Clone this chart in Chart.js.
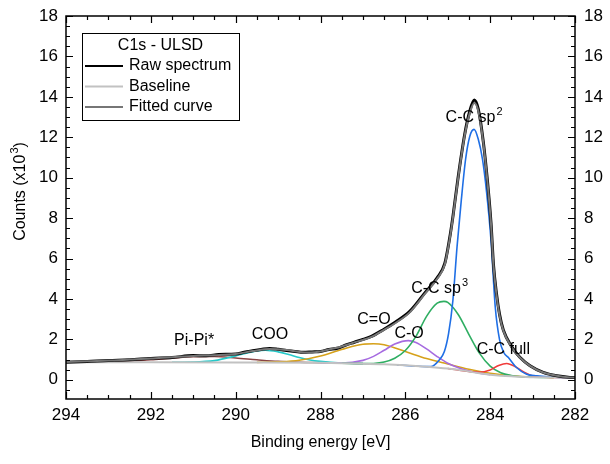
<!DOCTYPE html>
<html>
<head>
<meta charset="utf-8">
<script src="https://cdn.jsdelivr.net/npm/chart.js@4.4.0/dist/chart.umd.min.js"></script>
<style>
  html, body { margin: 0; padding: 0; background: #fff; }
  canvas { display: block; }
</style>
</head>
<body>
<canvas id="xps" width="610" height="464"></canvas>
<script>
// C1s - ULSD, binding energy (eV) vs counts (x10^3)

const rawE = [294, 293.5, 293, 292.5, 292, 291.5, 291, 290.7, 290.4, 290, 289.8, 289.6, 289.4, 289.2, 289, 288.8, 288.6, 288.4, 288.2, 288, 287.8, 287.6, 287.4, 287.2, 287, 286.8, 286.52, 286.24, 285.89, 285.54, 285.25, 285.07, 284.96, 284.88, 284.76, 284.6, 284.48, 284.375, 284.28, 284.16, 284.06, 283.98, 283.92, 283.85, 283.78, 283.69, 283.49, 283.3, 283.06, 282.75, 282.43, 282.12, 282];
const rawCounts = [0.87, 0.91, 0.96, 0.99, 1.06, 1.10, 1.20, 1.19, 1.25, 1.28, 1.36, 1.44, 1.50, 1.55, 1.51, 1.45, 1.40, 1.36, 1.38, 1.40, 1.50, 1.56, 1.72, 1.86, 2.00, 2.15, 2.48, 2.85, 3.40, 4.30, 5.05, 5.76, 6.95, 8.05, 9.95, 12.15, 13.30, 13.85, 13.40, 11.75, 9.75, 7.75, 5.65, 4.25, 3.25, 2.46, 1.63, 1.12, 0.70, 0.37, 0.20, 0.12, 0.11];

const fitE = [294, 293.5, 293, 292.5, 292, 291.5, 291, 290.5, 290, 289.6, 289.2, 288.8, 288.5, 288.25, 288, 287.75, 287.5, 287.2, 287, 286.8, 286.52, 286.24, 285.89, 285.54, 285.25, 285.07, 284.96, 284.88, 284.76, 284.6, 284.48, 284.375, 284.28, 284.16, 284.06, 283.98, 283.92, 283.85, 283.78, 283.69, 283.49, 283.3, 283.06, 282.75, 282.43, 282.12, 282];
const fitCounts = [0.88, 0.92, 0.95, 1.00, 1.05, 1.12, 1.18, 1.22, 1.28, 1.42, 1.52, 1.47, 1.38, 1.35, 1.40, 1.52, 1.65, 1.85, 1.97, 2.12, 2.45, 2.80, 3.35, 4.25, 5.00, 5.70, 6.90, 8.00, 9.90, 12.10, 13.20, 13.70, 13.30, 11.70, 9.70, 7.70, 5.60, 4.20, 3.20, 2.43, 1.60, 1.10, 0.69, 0.36, 0.20, 0.12, 0.11];

const baseE = [294, 292, 290, 288, 287, 286.5, 286, 285.5, 285, 284.75, 284.5, 284.25, 284, 283.75, 283.5, 283.25, 283, 282.5, 282];
const baseCounts = [0.87, 0.87, 0.86, 0.84, 0.80, 0.77, 0.72, 0.65, 0.56, 0.50, 0.41, 0.32, 0.25, 0.20, 0.17, 0.15, 0.13, 0.12, 0.11];

// fitted components (baseline included)
const piE = [294, 293, 292.5, 292, 291.5, 291, 290.5, 290, 289.5, 289, 288.5, 288, 287];
const piCounts = [0.87, 0.89, 0.93, 0.99, 1.07, 1.14, 1.15, 1.08, 0.99, 0.91, 0.87, 0.85, 0.80];

const cooE = [291.5, 291, 290.5, 290, 289.75, 289.5, 289.3, 289, 288.75, 288.5, 288.25, 288, 287.5, 287];
const cooCounts = [0.87, 0.88, 0.95, 1.18, 1.32, 1.43, 1.46, 1.38, 1.25, 1.10, 0.98, 0.91, 0.83, 0.80];

const coE = [289.5, 289, 288.5, 288, 287.5, 287, 286.75, 286.5, 286, 285.5, 285, 284.5, 284, 283.5, 283, 282.5];
const coCounts = [0.86, 0.89, 0.97, 1.18, 1.50, 1.76, 1.78, 1.73, 1.40, 1.05, 0.78, 0.52, 0.32, 0.20, 0.14, 0.12];

const cOE = [288, 287.5, 287, 286.75, 286.5, 286.25, 285.93, 285.75, 285.5, 285.25, 285, 284.75, 284.5, 284.25, 284];
const cOCounts = [0.84, 0.83, 0.96, 1.16, 1.46, 1.77, 1.94, 1.85, 1.53, 1.15, 0.82, 0.60, 0.44, 0.33, 0.25];

const sp3E = [287.5, 287, 286.75, 286.5, 286.25, 286, 285.75, 285.5, 285.25, 285.09, 285, 284.75, 284.5, 284.25, 284, 283.75, 283.5, 283.25, 283, 282.5];
const sp3Counts = [0.82, 0.80, 0.81, 0.88, 1.07, 1.45, 2.15, 3.14, 3.79, 3.88, 3.83, 3.22, 2.24, 1.31, 0.68, 0.35, 0.21, 0.15, 0.13, 0.12];

const sp2E = [286.2, 285.8, 285.6, 285.4, 285.2, 285.08, 284.98, 284.88, 284.78, 284.68, 284.58, 284.48, 284.38, 284.28, 284.18, 284.08, 283.98, 283.88, 283.78, 283.68, 283.57, 283.38, 283.14, 282.9, 282.5, 282];
const sp2Counts = [0.74, 0.68, 0.66, 0.65, 0.98, 1.40, 2.30, 3.90, 6.60, 8.90, 10.90, 12.05, 12.39, 11.90, 10.90, 9.20, 6.90, 3.60, 2.00, 1.35, 1.10, 0.61, 0.28, 0.20, 0.13, 0.11];

const fullE = [285, 284.5, 284.25, 284, 283.8, 283.61, 283.4, 283.2, 283, 282.75, 282.5, 282];
const fullCounts = [0.56, 0.41, 0.37, 0.49, 0.71, 0.81, 0.64, 0.37, 0.19, 0.13, 0.12, 0.11];

const xMajor = [294, 292, 290, 288, 286, 284, 282];
const yMajor = [0, 2, 4, 6, 8, 10, 12, 14, 16, 18];

// peak names: [text, superscript, energy, counts]
const peakLabels = [
  ['C-C sp', '2', 284.38, 12.95],
  ['C-C sp', '3', 285.19, 4.53],
  ['C-O', '', 285.91, 2.30],
  ['C=O', '', 286.74, 2.96],
  ['C-C full', '', 283.69, 1.51],
  ['COO', '', 289.19, 2.22],
  ['Pi-Pi*', '', 290.98, 1.93]
];

const FONT = '"Liberation Sans", Arial, sans-serif';

function pts(es, vs) {
  return es.map((e, i) => ({ x: e, y: vs[i] }));
}

function line(label, es, vs, color, width) {
  return {
    label: label,
    data: pts(es, vs),
    borderColor: color,
    borderWidth: width,
    pointRadius: 0,
    fill: false,
    cubicInterpolationMode: 'monotone'
  };
}

// text with an optional superscript, centred on x
function supText(ctx, base, sup, x, y, size, tail) {
  const small = Math.round(size * 0.68);
  ctx.font = size + 'px ' + FONT;
  const w1 = ctx.measureText(base).width;
  const w3 = tail ? ctx.measureText(tail).width : 0;
  ctx.font = small + 'px ' + FONT;
  const w2 = sup ? ctx.measureText(sup).width + 1 : 0;
  const left = x - (w1 + w2 + w3) / 2;
  ctx.textAlign = 'left';
  ctx.textBaseline = 'middle';
  ctx.font = size + 'px ' + FONT;
  ctx.fillText(base, left, y);
  if (tail) ctx.fillText(tail, left + w1 + w2, y);
  if (sup) {
    ctx.font = small + 'px ' + FONT;
    ctx.fillText(sup, left + w1 + 1, y - size * 0.35);
  }
}

const frame = {
  id: 'frame',
  afterDraw(chart) {
    const ctx = chart.ctx;
    const a = chart.chartArea;
    const xs = chart.scales.x;
    const ys = chart.scales.y;
    ctx.save();
    ctx.strokeStyle = '#000';
    ctx.fillStyle = '#000';
    ctx.lineWidth = 1.5;
    ctx.strokeRect(a.left, a.top, a.right - a.left, a.bottom - a.top);

    // inward ticks on all four sides
    ctx.lineWidth = 1.2;
    ctx.beginPath();
    for (let e = 282; e <= 294.001; e += 0.5) {
      const px = Math.round(xs.getPixelForValue(e)) + 0.5;
      const len = (Math.abs(e % 2) < 0.01) ? 7 : 4;
      ctx.moveTo(px, a.bottom); ctx.lineTo(px, a.bottom - len);
      ctx.moveTo(px, a.top); ctx.lineTo(px, a.top + len);
    }
    for (let v = -0.5; v <= 18.001; v += 0.5) {
      const py = Math.round(ys.getPixelForValue(v)) + 0.5;
      const len = (Math.abs(v % 2) < 0.01) ? 7 : 4;
      ctx.moveTo(a.left, py); ctx.lineTo(a.left + len, py);
      ctx.moveTo(a.right, py); ctx.lineTo(a.right - len, py);
    }
    ctx.stroke();

    // tick labels
    ctx.font = '17px ' + FONT;
    ctx.textBaseline = 'middle';
    ctx.textAlign = 'center';
    xMajor.forEach(e => ctx.fillText(String(e), xs.getPixelForValue(e), a.bottom + 16));
    yMajor.forEach(v => {
      const py = ys.getPixelForValue(v);
      ctx.textAlign = 'right';
      ctx.fillText(String(v), a.left - 8, py);
      ctx.textAlign = 'left';
      ctx.fillText(String(v), a.right + 9, py);
    });

    // axis titles
    ctx.font = '16px ' + FONT;
    ctx.textAlign = 'center';
    ctx.fillText('Binding energy [eV]', (a.left + a.right) / 2, a.bottom + 44);
    ctx.save();
    ctx.translate(21, (a.top + a.bottom) / 2 - 16);
    ctx.rotate(-Math.PI / 2);
    supText(ctx, 'Counts (x10', '3', 0, 0, 16, ')');
    ctx.restore();

    // peak names
    peakLabels.forEach(p => {
      supText(ctx, p[0], p[1], xs.getPixelForValue(p[2]), ys.getPixelForValue(p[3]), 16);
    });

    // legend box
    const lx = 82, ly = 33, lw = 157, lh = 87;
    ctx.fillStyle = '#fff';
    ctx.fillRect(lx, ly, lw, lh);
    ctx.strokeStyle = '#000';
    ctx.lineWidth = 1;
    ctx.strokeRect(lx + 0.5, ly + 0.5, lw, lh);
    ctx.fillStyle = '#000';
    ctx.font = '16px ' + FONT;
    ctx.textAlign = 'center';
    ctx.fillText('C1s - ULSD', lx + lw / 2, ly + 13);
    const items = [chart.data.datasets[1], chart.data.datasets[2], chart.data.datasets[0]];
    items.forEach((ds, i) => {
      const y = ly + 33 + i * 20.5;
      ctx.strokeStyle = ds.borderColor;
      ctx.lineWidth = 2;
      ctx.beginPath();
      ctx.moveTo(lx + 3, y);
      ctx.lineTo(lx + 41, y);
      ctx.stroke();
      ctx.textAlign = 'left';
      ctx.fillText(ds.label, lx + 47, y);
    });
    ctx.restore();
  }
};

new Chart(document.getElementById('xps'), {
  type: 'line',
  data: {
    datasets: [
      line('Fitted curve', fitE, fitCounts, '#767676', 2),
      line('Raw spectrum', rawE, rawCounts, '#000000', 3),
      line('Baseline', baseE, baseCounts, '#c2c2c2', 2),
      line('C-C sp2', sp2E, sp2Counts, '#1f6fe5', 1.6),
      line('C-C full', fullE, fullCounts, '#f03a3a', 1.6),
      line('C-C sp3', sp3E, sp3Counts, '#2fae62', 1.6),
      line('C-O', cOE, cOCounts, '#a66be0', 1.6),
      line('C=O', coE, coCounts, '#d6a11a', 1.6),
      line('COO', cooE, cooCounts, '#26c9c9', 1.6),
      line('Pi-Pi*', piE, piCounts, '#8a4444', 1.6)
    ]
  },
  options: {
    responsive: false,
    animation: false,
    devicePixelRatio: 1,
    layout: { padding: { left: 66, right: 35, top: 16, bottom: 65 } },
    scales: {
      x: { type: 'linear', reverse: true, min: 282, max: 294, display: false },
      y: { type: 'linear', min: -0.95, max: 18, display: false }
    },
    plugins: {
      legend: { display: false },
      tooltip: { enabled: false }
    }
  },
  plugins: [frame]
});
</script>
</body>
</html>
